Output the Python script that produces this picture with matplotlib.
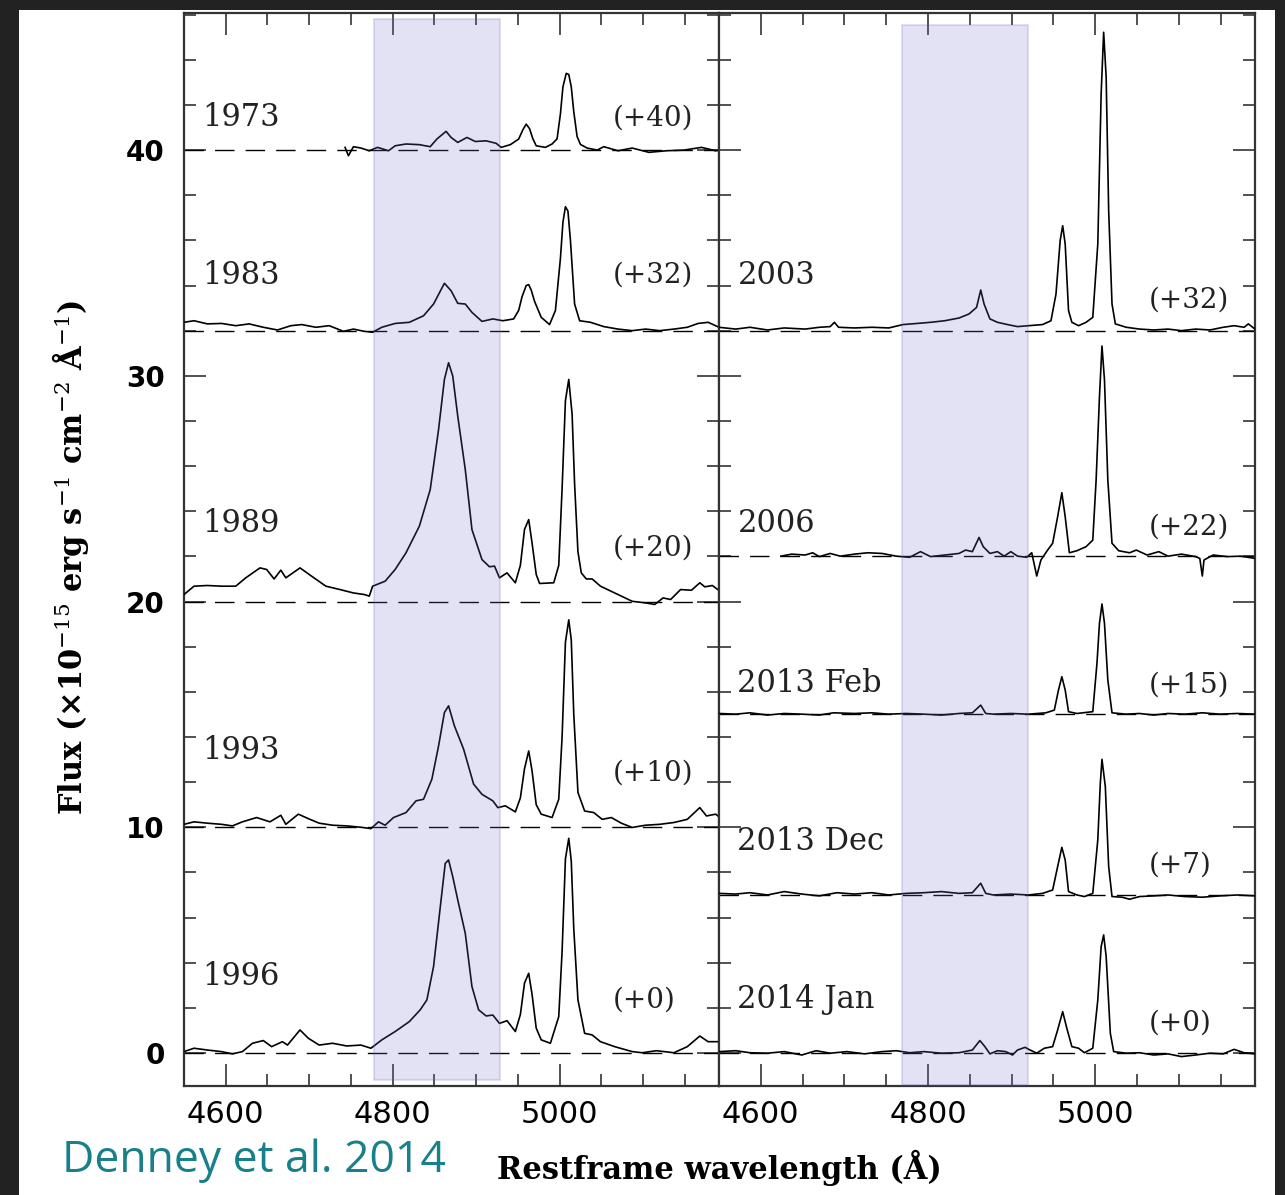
import matplotlib.pyplot as plt
from matplotlib.patches import Rectangle
from matplotlib.ticker import MultipleLocator

# ---- data (flux relative to each spectrum's offset, units 1e-15 erg/s/cm2/A)
left_epochs = ['1973', '1983', '1989', '1993', '1996']
left_offsets = [40, 32, 20, 10, 0]
right_epochs = ['2003', '2006', '2013 Feb', '2013 Dec', '2014 Jan']
right_offsets = [32, 22, 15, 7, 0]

wl_1973 = [4743, 4747, 4753, 4762, 4772, 4782, 4795, 4803, 4816, 4832, 4845, 4853, 4864, 4870, 4878,
           4889, 4899, 4912, 4924, 4930, 4941, 4951, 4956, 4960, 4964, 4968, 4972, 4983, 4991, 4997,
           5001, 5004, 5008, 5011, 5014, 5017, 5021, 5025, 5033, 5045, 5053, 5070, 5087, 5107, 5128,
           5149, 5170, 5187, 5195]
fx_1973 = [0.12, -0.25, 0.15, 0.09, -0.03, 0.12, -0.03, 0.19, 0.27, 0.24, 0.15, 0.49, 0.83, 0.56, 0.34,
           0.56, 0.38, 0.41, 0.30, 0.12, 0.24, 0.49, 0.9, 1.15, 0.95, 0.5, 0.19, 0.12, 0.27, 0.5,
           1.6, 2.8, 3.40, 3.35, 2.8, 1.7, 0.6, 0.25, 0.09, 0.00, 0.15, -0.03, 0.09, -0.10, -0.03,
           0.00, 0.12, -0.03, 0.02]

wl_1983 = [4550, 4562, 4578, 4595, 4612, 4628, 4645, 4662, 4678, 4691, 4708, 4724, 4741, 4753, 4766,
           4776, 4787, 4803, 4820, 4837, 4849, 4862, 4870, 4878, 4887, 4895, 4907, 4920, 4932, 4945,
           4951, 4955, 4960, 4963, 4966, 4970, 4978, 4988, 4995, 5001, 5004, 5007, 5010, 5013, 5018,
           5024, 5037, 5053, 5070, 5087, 5103, 5120, 5137, 5153, 5166, 5178, 5191, 5197]
fx_1983 = [0.37, 0.44, 0.30, 0.32, 0.22, 0.30, 0.15, 0.03, 0.22, 0.27, 0.15, 0.22, -0.03, 0.07, -0.03,
           -0.07, 0.15, 0.32, 0.37, 0.66, 1.18, 2.10, 1.77, 1.21, 1.18, 0.81, 0.41, 0.52, 0.44, 0.52,
           0.9, 1.5, 2.0, 2.04, 1.8, 1.3, 0.59, 0.27, 0.89, 3.2, 4.8, 5.49, 5.3, 4.0, 1.18,
           0.44, 0.37, 0.18, 0.07, 0.0, 0.07, 0.0, 0.07, 0.15, 0.32, 0.37, 0.15, 0.07]

wl_1989 = [4550, 4562, 4578, 4595, 4612, 4624, 4641, 4649, 4658, 4666, 4672, 4689, 4703, 4720, 4737,
           4753, 4766, 4772, 4776, 4791, 4803, 4816, 4832, 4845, 4855, 4862, 4867, 4872, 4878, 4887,
           4895, 4907, 4916, 4922, 4928, 4937, 4947, 4953, 4958, 4963, 4967, 4972, 4976, 4993, 4999,
           5003, 5007, 5011, 5015, 5018, 5022, 5026, 5032, 5039, 5049, 5066, 5087, 5103, 5114, 5124,
           5133, 5145, 5158, 5168, 5174, 5183, 5195]
fx_1989 = [0.31, 0.68, 0.71, 0.68, 0.68, 1.05, 1.49, 1.42, 1.00, 1.39, 1.05, 1.49, 1.12, 0.68, 0.53,
           0.38, 0.31, 0.24, 0.68, 0.90, 1.42, 2.16, 3.34, 4.96, 7.62, 9.84, 10.58, 9.99, 8.21, 5.85,
           3.19, 1.86, 1.54, 1.57, 1.05, 1.27, 0.83, 1.6, 3.2, 3.63, 2.6, 1.2, 0.80, 0.83, 1.6,
           5.0, 8.9, 9.84, 8.3, 5.2, 2.2, 1.27, 1.00, 1.00, 0.68, 0.38, 0.01, -0.06, -0.13, 0.16,
           0.09, 0.53, 0.50, 0.83, 0.65, 0.71, 0.38]

wl_1993 = [4550, 4562, 4578, 4595, 4608, 4620, 4637, 4653, 4666, 4672, 4687, 4699, 4712, 4728, 4745,
           4762, 4774, 4783, 4791, 4801, 4816, 4828, 4837, 4847, 4855, 4862, 4867, 4874, 4885, 4897,
           4907, 4920, 4926, 4935, 4947, 4953, 4958, 4963, 4967, 4972, 4978, 4991, 4999, 5003, 5007,
           5011, 5014, 5017, 5022, 5030, 5041, 5051, 5062, 5074, 5087, 5103, 5120, 5137, 5153, 5168,
           5176, 5187, 5195]
fx_1993 = [0.13, 0.24, 0.18, 0.13, 0.06, 0.24, 0.43, 0.24, 0.53, 0.13, 0.58, 0.38, 0.18, 0.09, 0.06,
           0.00, -0.06, 0.24, 0.09, 0.43, 0.65, 1.17, 1.24, 2.13, 3.60, 5.08, 5.38, 4.49, 3.46, 1.91,
           1.46, 1.17, 0.87, 0.95, 0.68, 1.3, 2.6, 3.38, 2.5, 1.0, 0.58, 0.43, 1.24, 4.0, 8.2,
           9.19, 8.3, 5.0, 1.54, 0.72, 0.65, 0.35, 0.43, 0.18, -0.01, 0.09, 0.13, 0.21, 0.35, 0.87,
           0.50, 0.58, 0.35]

wl_1996 = [4550, 4562, 4578, 4595, 4608, 4620, 4632, 4645, 4655, 4668, 4674, 4689, 4699, 4712, 4728,
           4745, 4762, 4774, 4787, 4803, 4820, 4833, 4841, 4849, 4858, 4863, 4867, 4872, 4878, 4887,
           4895, 4903, 4912, 4920, 4928, 4937, 4947, 4953, 4958, 4963, 4967, 4972, 4978, 4989, 4999,
           5003, 5007, 5011, 5014, 5017, 5022, 5030, 5039, 5049, 5066, 5087, 5099, 5116, 5137, 5153,
           5168, 5178, 5191]
fx_1996 = [0.06, 0.21, 0.13, 0.06, -0.04, 0.06, 0.43, 0.55, 0.28, 0.50, 0.35, 1.02, 0.65, 0.35, 0.43,
           0.31, 0.35, 0.21, 0.58, 0.95, 1.39, 1.91, 2.35, 3.83, 6.78, 8.40, 8.55, 7.81, 6.78, 5.30,
           2.94, 1.91, 1.64, 1.68, 1.31, 1.43, 0.95, 1.7, 3.1, 3.53, 2.6, 1.1, 0.58, 0.43, 1.61,
           4.5, 8.6, 9.51, 8.5, 5.5, 2.35, 0.87, 0.80, 0.50, 0.28, 0.06, 0.01, 0.10, 0.01, 0.28,
           0.75, 0.50, 0.50]

wl_2003 = [4550, 4570, 4587, 4608, 4628, 4653, 4670, 4683, 4688, 4693, 4712, 4733, 4753, 4770, 4787,
           4803, 4820, 4837, 4849, 4858, 4863, 4867, 4874, 4883, 4895, 4907, 4920, 4937, 4947, 4953,
           4958, 4961, 4964, 4968, 4972, 4980, 4989, 4997, 5003, 5007, 5010, 5013, 5016, 5020, 5024,
           5037, 5053, 5070, 5087, 5103, 5120, 5137, 5153, 5166, 5178, 5183, 5191]
fx_2003 = [0.15, 0.07, 0.15, 0.03, 0.12, 0.07, 0.15, 0.18, 0.37, 0.15, 0.12, 0.15, 0.12, 0.27, 0.32,
           0.37, 0.44, 0.56, 0.74, 1.03, 1.80, 1.18, 0.52, 0.37, 0.27, 0.18, 0.22, 0.27, 0.44, 1.62,
           3.99, 4.65, 3.84, 0.89, 0.37, 0.22, 0.37, 0.59, 3.84, 10.49, 13.22, 11.23, 5.32, 1.18, 0.30,
           0.15, 0.07, 0.03, 0.07, 0.00, 0.07, 0.03, 0.15, 0.22, 0.15, 0.30, 0.07]

wl_2006 = [4624, 4637, 4653, 4662, 4670, 4683, 4695, 4712, 4728, 4745, 4762, 4778, 4791, 4803, 4820,
           4837, 4845, 4853, 4861, 4866, 4874, 4883, 4891, 4899, 4907, 4918, 4924, 4930, 4935, 4943,
           4949, 4955, 4960, 4964, 4969, 4978, 4989, 4997, 5001, 5005, 5008, 5011, 5015, 5020, 5028,
           5041, 5049, 5062, 5076, 5087, 5103, 5120, 5125, 5128, 5130, 5141, 5158, 5174, 5191]
fx_2006 = [0.01, 0.10, 0.06, 0.16, -0.01, 0.13, 0.01, 0.10, 0.16, 0.13, 0.01, -0.04, 0.21, -0.01, 0.06,
           0.13, 0.28, 0.21, 0.84, 0.43, 0.13, 0.21, 0.01, 0.21, 0.01, -0.04, 0.16, -0.87, -0.16, 0.28,
           0.58, 1.76, 2.82, 1.76, 0.16, 0.25, 0.43, 0.72, 3.38, 7.08, 9.32, 7.81, 3.38, 0.58, 0.25,
           0.16, 0.28, 0.06, 0.21, 0.01, 0.10, -0.01, -0.09, -0.87, -0.16, 0.06, -0.01, 0.01, -0.09]

wl_2013feb = [4550, 4570, 4587, 4608, 4628, 4649, 4670, 4687, 4712, 4733, 4753, 4774, 4795, 4816, 4837,
              4853, 4863, 4869, 4878, 4899, 4920, 4941, 4951, 4956, 4960, 4964, 4968, 4978, 4997, 5002,
              5005, 5008, 5011, 5015, 5020, 5037, 5053, 5070, 5087, 5107, 5128, 5149, 5170, 5191]
fx_2013feb = [0.04, 0.01, 0.07, -0.03, 0.04, 0.01, -0.03, 0.07, 0.04, 0.07, 0.01, 0.04, 0.01, -0.03, 0.04,
              0.07, 0.41, 0.04, 0.01, 0.04, 0.01, 0.07, 0.19, 1.08, 1.67, 1.08, 0.12, 0.04, 0.12, 2.26,
              4.03, 4.89, 4.03, 1.52, 0.07, 0.01, 0.04, -0.03, 0.04, 0.01, 0.07, 0.01, 0.04, 0.01]

wl_2013dec = [4550, 4570, 4587, 4608, 4628, 4649, 4670, 4691, 4712, 4733, 4753, 4774, 4795, 4816, 4837,
              4853, 4863, 4869, 4878, 4899, 4920, 4937, 4949, 4955, 4960, 4964, 4968, 4978, 4987, 4997,
              5003, 5006, 5008, 5012, 5016, 5020, 5032, 5041, 5053, 5070, 5087, 5107, 5128, 5149, 5170,
              5191]
fx_2013dec = [0.07, 0.04, 0.10, 0.00, 0.15, 0.04, -0.04, 0.10, 0.04, 0.10, 0.00, 0.07, 0.10, 0.15, 0.07,
              0.10, 0.52, 0.07, 0.00, 0.04, 0.00, 0.07, 0.22, 1.26, 2.11, 1.55, 0.15, 0.00, -0.07, 0.07,
              2.44, 4.95, 6.01, 4.80, 1.26, -0.07, -0.10, -0.19, -0.07, -0.04, 0.00, -0.07, -0.10, -0.04, 0.00,
              -0.04]

wl_2014jan = [4550, 4570, 4587, 4608, 4628, 4649, 4666, 4683, 4703, 4724, 4745, 4762, 4778, 4795, 4816,
              4837, 4853, 4862, 4868, 4874, 4883, 4893, 4901, 4907, 4916, 4922, 4930, 4939, 4949, 4955,
              4961, 4966, 4972, 4980, 4987, 4997, 5003, 5007, 5010, 5013, 5018, 5022, 5037, 5053, 5070,
              5087, 5103, 5120, 5137, 5153, 5166, 5178, 5191]
fx_2014jan = [0.06, 0.10, 0.01, -0.01, 0.06, -0.09, 0.10, -0.01, 0.06, -0.04, 0.06, 0.10, 0.01, 0.06, -0.01,
              0.01, 0.13, 0.55, 0.28, -0.04, 0.10, 0.06, -0.09, 0.13, 0.25, 0.13, -0.01, 0.21, 0.28, 1.02,
              1.83, 1.09, 0.28, 0.21, 0.01, 0.21, 2.35, 4.71, 5.23, 4.27, 0.87, 0.06, -0.01, 0.01, -0.09,
              -0.04, -0.16, -0.09, -0.01, -0.04, 0.16, 0.01, -0.04]

left_spectra = [(wl_1973, fx_1973), (wl_1983, fx_1983), (wl_1989, fx_1989),
                (wl_1993, fx_1993), (wl_1996, fx_1996)]
right_spectra = [(wl_2003, fx_2003), (wl_2006, fx_2006), (wl_2013feb, fx_2013feb),
                 (wl_2013dec, fx_2013dec), (wl_2014jan, fx_2014jan)]

# ---- figure
plt.rcParams['mathtext.fontset'] = 'dejavuserif'
W, H = 1285, 1195
fig = plt.figure(figsize=(W / 100, H / 100), dpi=100)
fig.patch.set_facecolor('white')

# dark frame around the screenshot
for r in [(0, 0, 19 / W, 1), (0, 1 - 10 / H, 1, 10 / H), (1275 / W, 0, 10 / W, 1)]:
    fig.patches.append(Rectangle(r[:2], r[2], r[3], transform=fig.transFigure,
                                 facecolor='#222222', edgecolor='none', zorder=10))

bot = 1 - 1085.7 / H
hgt = (1085.7 - 13.3) / H
ax1 = fig.add_axes([184 / W, bot, 535 / W, hgt])
ax2 = fig.add_axes([719 / W, bot, 536 / W, hgt])

serif = 'DejaVu Serif'
left_lab_y = [41.46, 34.46, 23.46, 13.42, 3.38]
left_off_y = [41.4, 34.46, 22.36, 12.39, 2.35]
right_lab_y = [34.46, 23.46, 16.38, 9.36, 2.35]
right_off_y = [33.36, 23.31, 16.3, 8.33, 1.31]

panels = [(ax1, left_epochs, left_offsets, left_spectra, left_lab_y, left_off_y, (4778, 4929, -1.2, 45.79)),
          (ax2, right_epochs, right_offsets, right_spectra, right_lab_y, right_off_y, (4769, 4920, -1.42, 45.54))]

for ax, epochs, offs, spectra, laby, offy, box in panels:
    for ep, off, (wl, fx), ly, oy in zip(epochs, offs, spectra, laby, offy):
        ax.axhline(off, color='black', lw=1.0, dashes=(14, 8), zorder=2)
        ax.plot(wl, [f + off for f in fx], color='black', lw=1.2, zorder=3)
        ax.text(4572, ly, ep, fontsize=22, family=serif, va='center', ha='left', color='#222222')
        ax.text(5064, oy, '(+%d)' % off, fontsize=20, family=serif, va='center', ha='left', color='#222222')
    x0, x1, y0, y1 = box
    ax.add_patch(Rectangle((x0, y0), x1 - x0, y1 - y0, facecolor='#7370d0', alpha=0.2,
                           edgecolor='#6a66c8', lw=1.5, zorder=5, clip_on=False))

    ax.set_xlim(4550, 5191)
    ax.set_ylim(-1.45, 46.06)
    ax.xaxis.set_major_locator(MultipleLocator(200))
    ax.xaxis.set_minor_locator(MultipleLocator(50))
    ax.yaxis.set_major_locator(MultipleLocator(10))
    ax.yaxis.set_minor_locator(MultipleLocator(2))
    ax.tick_params(which='both', direction='in', top=True, right=True, width=1.2, color='#333333')
    ax.tick_params(which='major', length=16)
    ax.tick_params(which='minor', length=8.5)
    ax.tick_params(axis='x', which='major', pad=10, labelsize=22)
    for lab in ax.get_xticklabels():
        lab.set_family('DejaVu Sans')
    for s in ax.spines.values():
        s.set_linewidth(1.6)
        s.set_color('#333333')

ax1.tick_params(axis='y', which='major', pad=14, labelsize=20)
for lab in ax1.get_yticklabels():
    lab.set_family('DejaVu Sans')
    lab.set_fontweight('bold')
ax2.tick_params(axis='y', labelleft=False)

fig.text(71 / W, 1 - 557 / H, 'Flux (\u00d710$^{-15}$ erg s$^{-1}$ cm$^{-2}$ \u00c5$^{-1}$)',
         rotation=90, ha='center', va='center', fontsize=22, family=serif, fontweight='bold')
fig.text(719 / W, 1 - 1168 / H, 'Restframe wavelength (\u00c5)', ha='center', va='center',
         fontsize=22, family=serif, fontweight='bold')
fig.text(62 / W, 1 - 1172 / H, 'Denney et al. 2014', ha='left', va='baseline',
         fontsize=32, family='Open Sans', color='#17808a')

fig.savefig('out.png', dpi=100, facecolor='white')
